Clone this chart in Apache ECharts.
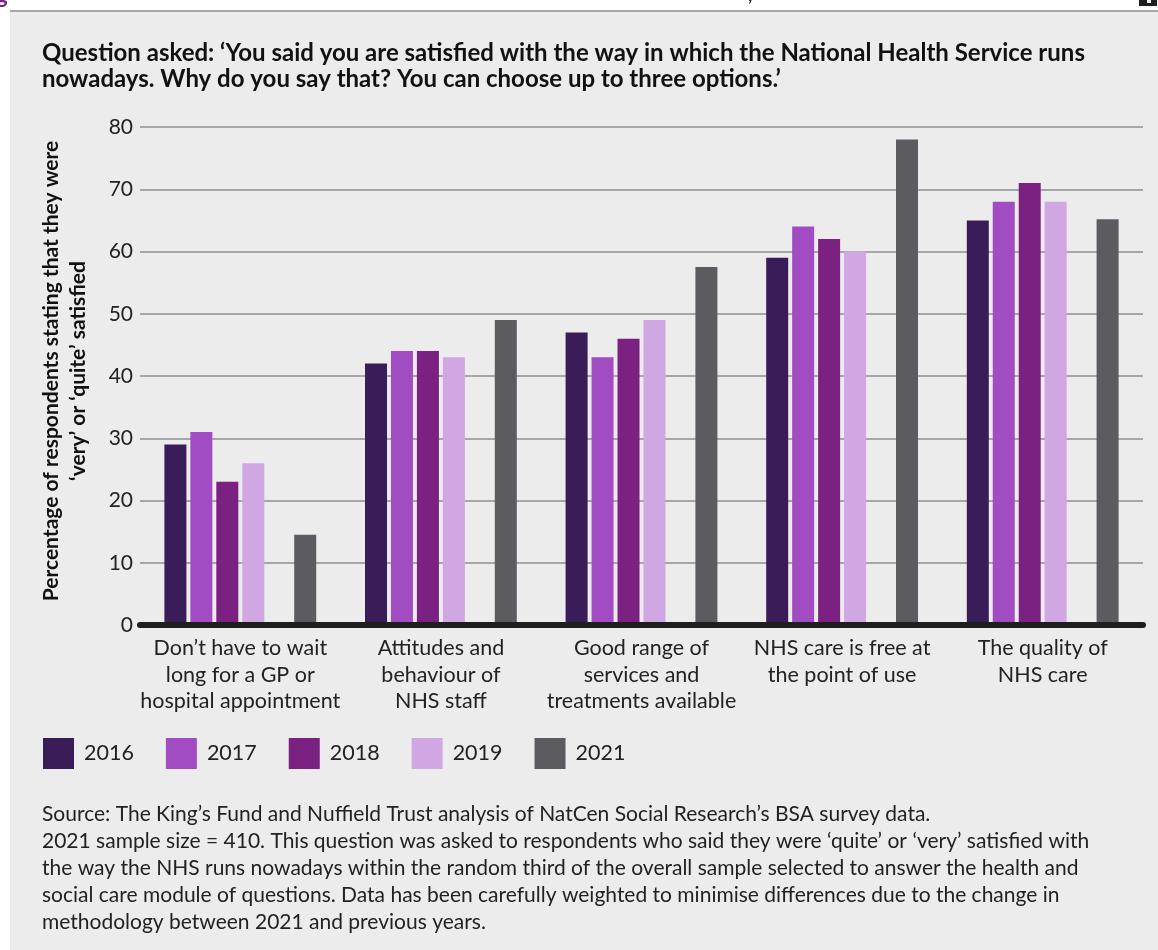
<!DOCTYPE html>
<html>
<head>
<meta charset="utf-8">
<script src="https://cdn.jsdelivr.net/npm/echarts@6/dist/echarts.min.js"></script>
<style>
html,body{margin:0;padding:0;background:#fff;}
#chart{width:1158px;height:950px;}
</style>
</head>
<body>
<div id="chart"></div>
<script>
const categories = [
  "Don\u2019t have to wait\nlong for a GP or\nhospital appointment",
  "Attitudes and\nbehaviour of\nNHS staff",
  "Good range of\nservices and\ntreatments available",
  "NHS care is free at\nthe point of use",
  "The quality of\nNHS care"
];
const years = ["2016", "2017", "2018", "2019", "2021"];
const v2016 = [29, 42, 47, 59, 65];
const v2017 = [31, 44, 43, 64, 68];
const v2018 = [23, 44, 46, 62, 71];
const v2019 = [26, 43, 49, 60, 68];
const v2021 = [14.5, 49, 57.5, 78, 65.2];
const yTicks = [0, 10, 20, 30, 40, 50, 60, 70, 80];

const colors = ["#3a1c58", "#a24cc4", "#7a2181", "#d0a6e3", "#5c5b60"];
const titleText = "Question asked: \u2018You said you are satisfied with the way in which the National Health Service runs\nnowadays. Why do you say that? You can choose up to three options.\u2019";
const yTitle = "Percentage of respondents stating that they were\n\u2018very\u2019 or \u2018quite\u2019 satisfied";
const sourceText = "Source: The King\u2019s Fund and Nuffield Trust analysis of NatCen Social Research\u2019s BSA survey data.\n2021 sample size = 410. This question was asked to respondents who said they were \u2018quite\u2019 or \u2018very\u2019 satisfied with\nthe way the NHS runs nowadays within the random third of the overall sample selected to answer the health and\nsocial care module of questions. Data has been carefully weighted to minimise differences due to the change in\nmethodology between 2021 and previous years.";

const FONT = "Lato, 'Open Sans', sans-serif";
const chart = echarts.init(document.getElementById('chart'), null, {renderer: 'canvas'});

const seriesData = [v2016, v2017, v2018, v2019, null, v2021];
const seriesNames = ["2016", "2017", "2018", "2019", "gap", "2021"];
const seriesColors = [colors[0], colors[1], colors[2], colors[3], "transparent", colors[4]];
const series = seriesData.map((d, i) => ({
  name: seriesNames[i],
  type: 'bar',
  data: d ? d : categories.map(() => null),
  barWidth: 22,
  barGap: '18%',
  itemStyle: {color: seriesColors[i]},
  z: 2,
  silent: true
}));

chart.setOption({
  animation: false,
  backgroundColor: '#ffffff',
  textStyle: {fontFamily: FONT},
  graphic: [
    {type: 'rect', shape: {x: 10, y: 12, width: 1148, height: 938}, style: {fill: '#ececec'}, z: -10},
    {type: 'rect', shape: {x: 10, y: 10, width: 1148, height: 2}, style: {fill: '#a8a8a8'}, z: -9},
    {type: 'rect', shape: {x: 1139, y: 0, width: 18, height: 6}, style: {fill: '#1e1e1e'}, z: -9},
    {type: 'rect', shape: {x: 1147, y: 0, width: 4, height: 3}, style: {fill: '#ffffff'}, z: -8},
    {type: 'text', x: -4, y: -15, style: {text: "g", font: "bold 22px " + FONT, fill: '#7a2181'}, z: -8},
    {type: 'text', x: 748, y: -14, style: {text: ",", font: "bold 18px " + FONT, fill: '#222'}, z: -8},
    {type: 'text', left: 42, top: 40, style: {text: titleText, font: "bold 24px " + FONT, fill: '#111', lineHeight: 26}},
    {type: 'text', x: 65, y: 371, rotation: Math.PI / 2,
     style: {text: yTitle, font: "bold 21px " + FONT, fill: '#111', lineHeight: 27, textAlign: 'center', textVerticalAlign: 'middle', align: 'center', verticalAlign: 'middle'}},
    {type: 'text', left: 42, top: 801, style: {text: sourceText, font: "21px " + FONT, fill: '#222', lineHeight: 27}}
  ],
  legend: {
    data: years,
    left: 43,
    top: 738,
    padding: 0,
    icon: 'rect',
    itemWidth: 31,
    itemHeight: 31,
    itemGap: 32,
    textStyle: {fontSize: 21.5, color: '#222', fontFamily: FONT, padding: [0, 0, 0, 5]},
    selectedMode: false
  },
  grid: {left: 140, right: 15, top: 127, bottom: 325, containLabel: false},
  xAxis: {
    type: 'category',
    data: categories,
    axisLine: {show: true, lineStyle: {color: '#1e1e1e', width: 6}},
    axisTick: {show: false},
    axisLabel: {interval: 0, fontSize: 21.5, color: '#222', lineHeight: 26.5, margin: 10, fontFamily: FONT},
    z: 5
  },
  yAxis: {
    type: 'value',
    min: yTicks[0],
    max: yTicks[yTicks.length - 1],
    interval: 10,
    axisLine: {show: false},
    axisTick: {show: false},
    axisLabel: {fontSize: 21, color: '#222', margin: 7, fontFamily: FONT},
    splitLine: {lineStyle: {color: '#a6a6a6', width: 2}}
  },
  series: series
});
</script>
</body>
</html>
